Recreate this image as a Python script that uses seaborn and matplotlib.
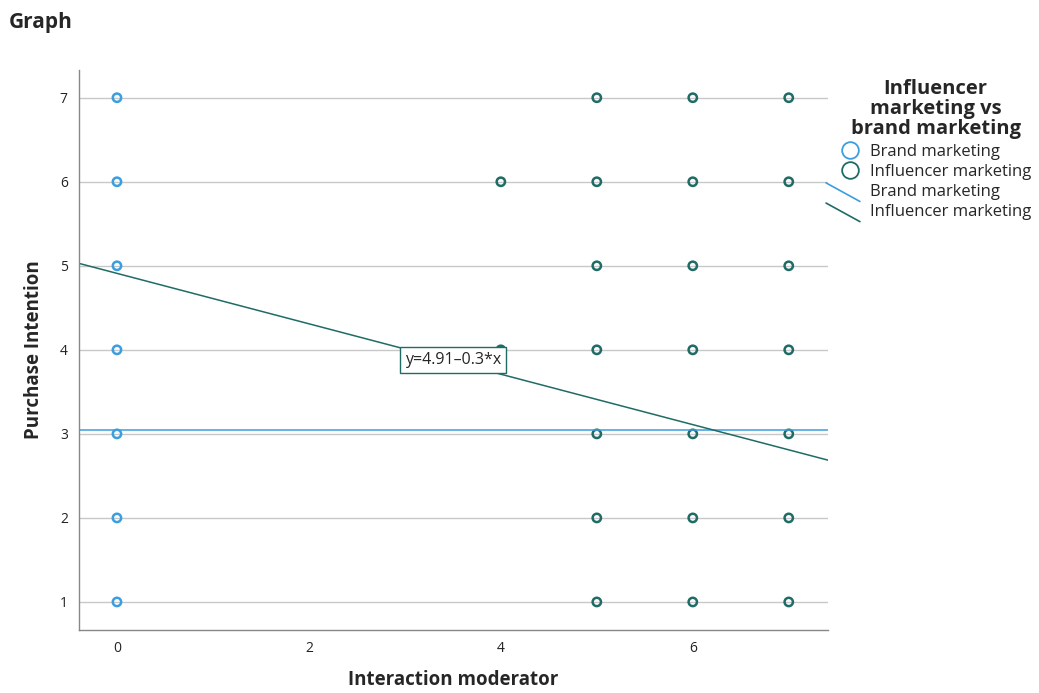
import matplotlib
matplotlib.use("Agg")
import matplotlib.pyplot as plt
import pandas as pd
import seaborn as sns
from matplotlib.lines import Line2D
from matplotlib.legend_handler import HandlerBase

# observed (moderator, intention) combinations per group
brand_x = [0, 0, 0, 0, 0, 0, 0]
brand_y = [1, 2, 3, 4, 5, 6, 7]
infl_x = [4, 4, 5, 5, 5, 5, 5, 5, 5, 6, 6, 6, 6, 6, 6, 6, 7, 7, 7, 7, 7, 7, 7]
infl_y = [6, 4, 1, 2, 3, 4, 5, 6, 7, 1, 2, 3, 4, 5, 6, 7, 1, 2, 3, 4, 5, 6, 7]

# fit lines (intercept, slope)
brand_fit = (3.05, 0.0)
infl_fit = (4.91, -0.3)

groups = ["Brand marketing", "Influencer marketing"]
colors = {"Brand marketing": "#3a9ee0", "Influencer marketing": "#1f6b66"}

df = pd.DataFrame({
    "x": brand_x + infl_x,
    "y": brand_y + infl_y,
    "group": [groups[0]] * len(brand_x) + [groups[1]] * len(infl_x),
})


class DiagHandler(HandlerBase):
    def create_artists(self, legend, orig, xd, yd, w, h, fs, trans):
        ln = Line2D([-xd - 10, -xd + w], [-yd + h + 1, -yd - 4],
                    color=orig.get_color(), lw=1.2)
        ln.set_transform(trans)
        return [ln]


sns.set_style("white")
plt.rcParams["font.family"] = ["Open Sans", "DejaVu Sans"]

fig = plt.figure(figsize=(10.39, 6.93), dpi=100)
ax = fig.add_axes([0.076, 0.091, 0.721, 0.808])

ax.set_xlim(-0.396, 7.41)
ax.set_ylim(0.667, 7.33)
ax.set_yticks([1, 2, 3, 4, 5, 6, 7])
ax.set_xticks([0, 2, 4, 6])
ax.grid(axis="y", color="#c8c8c8", lw=1.0)
ax.set_axisbelow(True)

sns.scatterplot(data=df, x="x", y="y", hue="group", palette=colors,
                marker="o", s=36, linewidth=1.8, legend=False, ax=ax)
coll = ax.collections[0]
coll.set_edgecolor([colors[g] for g in df["group"]])
coll.set_facecolor("none")

ax.axline((0, brand_fit[0]), slope=brand_fit[1], color=colors[groups[0]], lw=1.1)
ax.axline((0, infl_fit[0]), slope=infl_fit[1], color=colors[groups[1]], lw=1.1)

ax.text(3.5, 3.88, "y=4.91\u20130.3*x", ha="center", va="center", fontsize=11.5,
        zorder=10,
        bbox=dict(boxstyle="square,pad=0.3", fc="white", ec=colors[groups[1]], lw=1.0))

for s in ["top", "right"]:
    ax.spines[s].set_visible(False)
for s in ["left", "bottom"]:
    ax.spines[s].set_color("#888888")
    ax.spines[s].set_linewidth(1.0)
ax.tick_params(axis="both", labelsize=10, length=0, pad=8, labelcolor="#222222")
ax.set_xlabel("Interaction moderator", fontsize=13.5, fontweight="bold")
ax.set_ylabel("Purchase Intention", fontsize=13.5, fontweight="bold")
ax.yaxis.set_label_coords(-0.047, 0.5)
ax.xaxis.set_label_coords(0.5, -0.072)

fig.text(0.008, 0.968, "Graph", fontsize=15, fontweight="bold", ha="left", va="center")

handles = [
    Line2D([], [], marker="o", ls="none", mfc="none", mec=colors[groups[0]], ms=12, mew=1.3),
    Line2D([], [], marker="o", ls="none", mfc="none", mec=colors[groups[1]], ms=12, mew=1.3),
    Line2D([], [], color=colors[groups[0]]),
    Line2D([], [], color=colors[groups[1]]),
]
labels = groups + groups
leg = fig.legend(handles, labels, loc="upper left", bbox_to_anchor=(0.802, 0.895),
                 frameon=False, fontsize=12, handlelength=1.2, handletextpad=0.6,
                 labelspacing=0.25, borderaxespad=0,
                 title="Influencer\nmarketing vs\nbrand marketing",
                 handler_map={handles[2]: DiagHandler(), handles[3]: DiagHandler()})
leg.get_title().set_fontweight("bold")
leg.get_title().set_fontsize(14.5)
leg.get_title().set_multialignment("center")
leg.get_title().set_linespacing(1.0)
leg._legend_box.align = "center"

fig.savefig("out.png", dpi=100)
